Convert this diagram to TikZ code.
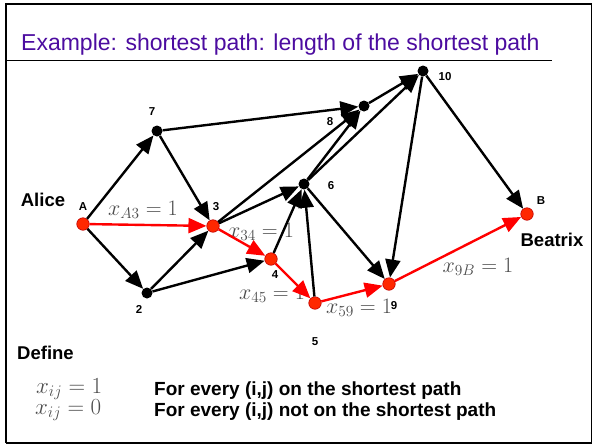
\RequirePackage{fix-cm}
\documentclass[tikz,border=0pt]{standalone}
\usepackage{fontspec}
\setmainfont{Liberation Sans}
\usetikzlibrary{arrows.meta}

\definecolor{titlepurple}{RGB}{76,12,160}
\definecolor{pathred}{RGB}{255,0,0}
\definecolor{dotred}{RGB}{255,40,0}

\begin{document}
\begin{tikzpicture}[x=1pt,y=-1pt,
    blk/.style={circle,fill=black,inner sep=0pt,minimum size=11pt},
    hit/.style={circle,fill=dotred,draw=red!75!black,line width=0.6pt,inner sep=0pt,minimum size=12.5pt},
    arc/.style={line width=2.4pt,-{Triangle[length=18pt,width=15pt]}},
    onpath/.style={arc,pathred},
    num/.style={inner sep=0pt,font=\fontsize{11.5}{12}\selectfont\bfseries},
    who/.style={inner sep=0pt,font=\fontsize{18.5}{20}\selectfont\bfseries},
    xlab/.style={inner sep=0pt,text=black!70,font=\fontsize{22}{23}\selectfont},
    defline/.style={inner sep=0pt,anchor=base west,font=\fontsize{19}{20}\selectfont\bfseries}]
  \useasboundingbox (0,0) rectangle (595,445);
  % frame and title
  \draw[line width=1.3pt] (6.2,4.3) rectangle (591.8,443);
  \draw[line width=2.3pt] (6.2,443) -- (6.2,4.3) -- (591.8,4.3);
  \draw[line width=1pt] (6.2,60.5) -- (552,60.5);
  \node[anchor=base west,inner sep=0pt,text=titlepurple,font=\fontsize{23}{24}\selectfont]
    (title) at (21,50) {Example: shortest path: length of the shortest path};

  % flow values
  \node[xlab] (xA3) at (143,210) {$x_{A3}=1$};
  \node[xlab] (x34) at (261,232) {$x_{34}=1$};
  \node[xlab] (x45) at (272,294) {$x_{45}=1$};
  \node[xlab] (x59) at (359,308) {$x_{59}=1$};
  \node[xlab] (x9B) at (478,267) {$x_{9B}=1$};

  % vertices
  \node[hit] (A) at (83,224) {};
  \node[blk] (n7) at (157,131) {};
  \node[hit] (n3) at (213,226) {};
  \node[blk] (n2) at (147,293) {};
  \node[hit] (n4) at (271,259) {};
  \node[hit] (n5) at (315,303) {};
  \node[blk] (n6) at (304,184) {};
  \node[blk] (n8) at (364,106) {};
  \node[blk] (n10) at (423,71) {};
  \node[hit] (n9) at (389,284) {};
  \node[hit] (B) at (527,214) {};

  \node[num] (lA) at (83,207) {A};
  \node[num] (l7) at (152,112) {7};
  \node[num] (l3) at (216,207) {3};
  \node[num] (l2) at (139,309) {2};
  \node[num] (l4) at (275,275) {4};
  \node[num] (l5) at (315,342) {5};
  \node[num] (l6) at (331,186) {6};
  \node[num] (l8) at (330,122) {8};
  \node[num] (l10) at (445,77) {10};
  \node[num] (l9) at (394,306) {9};
  \node[num] (lB) at (541,201) {B};
  \node[who] (alice) at (43,200) {Alice};
  \node[who] (beatrix) at (552,240) {Beatrix};

  % arcs
  \draw[arc] (A) -- (n7);
  \draw[arc] (A) -- (n2);
  \draw[arc] (n7) -- (n8);
  \draw[arc] (n7) -- (n3);
  \draw[arc] (n2) -- (n3);
  \draw[arc] (n2) -- (n4);
  \draw[arc] (n3) -- (n6);
  \draw[arc] (n3) -- (n8);
  \draw[arc] (n4) -- (n6);
  \draw[arc] (n5) -- (n6);
  \draw[arc] (n6) -- (n8);
  \draw[arc] (n6) -- (n10);
  \draw[arc] (n8) -- (n10);
  \draw[arc] (n6) -- (n9);
  \draw[arc] (n10) -- (n9);
  \draw[arc] (n10) -- (B);
  \draw[onpath] (A) -- (n3);
  \draw[onpath] (n3) -- (n4);
  \draw[onpath] (n4) -- (n5);
  \draw[onpath] (n5) -- (n9);
  \draw[onpath] (n9) -- (B);

  % definition
  \node[defline,font=\fontsize{18.5}{20}\selectfont\bfseries] (define) at (17,359) {Define};
  \node[xlab,anchor=base west,font=\fontsize{23}{24}\selectfont] (xone) at (36,393) {$x_{ij}=1$};
  \node[xlab,anchor=base west,font=\fontsize{23}{24}\selectfont] (xzero) at (35,414) {$x_{ij}=0$};
  \node[defline] (onpath) at (154,395) {For every (i,j) on the shortest path};
  \node[defline] (offpath) at (154,416) {For every (i,j) not on the shortest path};
\end{tikzpicture}
\end{document}
